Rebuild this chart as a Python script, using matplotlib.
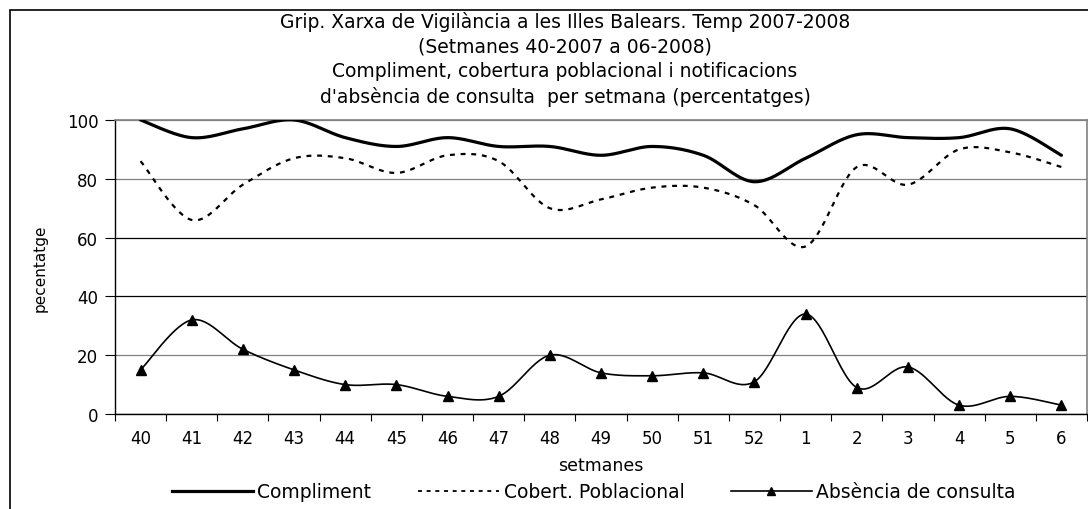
import numpy as np
import matplotlib
matplotlib.use("Agg")
import matplotlib.pyplot as plt
from matplotlib.patches import Rectangle
from matplotlib.lines import Line2D

weeks = ["40", "41", "42", "43", "44", "45", "46", "47", "48", "49",
         "50", "51", "52", "1", "2", "3", "4", "5", "6"]
compliment = [100, 94, 97, 100, 94, 91, 94, 91, 91, 88, 91, 88, 79, 87, 95, 94, 94, 97, 88]
cobertura = [86, 66, 78, 87, 87, 82, 88, 86, 70, 73, 77, 77, 71, 57, 84, 78, 90, 89, 84]
absencia = [15, 32, 22, 15, 10, 10, 6, 6, 20, 14, 13, 14, 11, 34, 9, 16, 3, 6, 3]

title_lines = ["Grip. Xarxa de Vigilància a les Illes Balears. Temp 2007-2008",
               "(Setmanes 40-2007 a 06-2008)",
               "Compliment, cobertura poblacional i notificacions",
               "d'absència de consulta  per setmana (percentatges)"]
legend_labels = ["Compliment", "Cobert. Poblacional", "Absència de consulta"]


def smooth(xs, ys, n=30):
    """Catmull-Rom style Bezier smoothing, like spreadsheet smoothed lines."""
    xs = np.asarray(xs, float)
    ys = np.asarray(ys, float)
    px = np.concatenate([[xs[0]], xs, [xs[-1]]])
    py = np.concatenate([[ys[0]], ys, [ys[-1]]])
    ox, oy = [], []
    t = np.linspace(0, 1, n, endpoint=False)
    for i in range(1, len(px) - 2):
        p0 = np.array([px[i], py[i]])
        p3 = np.array([px[i + 1], py[i + 1]])
        c1 = p0 + (np.array([px[i + 1], py[i + 1]]) - np.array([px[i - 1], py[i - 1]])) / 6
        c2 = p3 - (np.array([px[i + 2], py[i + 2]]) - np.array([px[i], py[i]])) / 6
        b = ((1 - t) ** 3)[:, None] * p0 + (3 * (1 - t) ** 2 * t)[:, None] * c1 \
            + (3 * (1 - t) * t ** 2)[:, None] * c2 + (t ** 3)[:, None] * p3
        ox.extend(b[:, 0])
        oy.extend(b[:, 1])
    ox.append(xs[-1])
    oy.append(ys[-1])
    return np.array(ox), np.array(oy)


plt.rcParams['font.family'] = ['DejaVu Sans']
fig = plt.figure(figsize=(10.88, 5.10), dpi=100)
ax = fig.add_axes([115 / 1088, 1 - 415 / 510, 972 / 1088, 294 / 510])

x = np.arange(len(weeks))

sx, sy = smooth(x, compliment)
ax.plot(sx, sy, color='black', lw=2.3, solid_capstyle='round', zorder=3)
sx, sy = smooth(x, cobertura)
ax.plot(sx, sy, color='black', lw=1.6, ls=(0, (2.2, 2.6)), zorder=3)
sx, sy = smooth(x, absencia)
ax.plot(sx, sy, color='black', lw=1.2, zorder=3)
ax.plot(x, absencia, ls='none', marker='^', color='black', ms=7, zorder=4)

ax.set_xlim(-0.5, len(weeks) - 0.5)
ax.set_ylim(0, 100)
ax.set_yticks([0, 20, 40, 60, 80, 100])
ax.set_xticks(x)
ax.set_xticklabels(weeks)
ax.set_xticks(np.arange(-0.5, len(weeks), 1), minor=True)
ax.tick_params(axis='x', which='major', length=0, pad=11, labelsize=12)
ax.tick_params(axis='x', which='minor', length=5, width=0.8, direction='out')
ax.tick_params(axis='y', length=7, width=0.8, direction='out', pad=5, labelsize=12)

ax.yaxis.grid(True, color='black', lw=0.9)
for gl, c in zip(ax.get_ygridlines(), ['black', '#808080', 'black', 'black', '#808080', '#808080']):
    gl.set_color(c)
ax.set_axisbelow(True)

for s in ['top', 'right']:
    ax.spines[s].set_color('#808080')
    ax.spines[s].set_linewidth(1.2)
ax.spines['left'].set_linewidth(1.0)
ax.spines['bottom'].set_linewidth(1.0)

ax.set_xlabel("setmanes", fontsize=12.5, labelpad=6)
ax.set_ylabel("pecentatge", fontsize=11, labelpad=14)

for i, line in enumerate(title_lines):
    fig.text(565 / 1088, 1 - (22 + 25 * i) / 510, line, ha='center', va='center', fontsize=13.5)

handles = [Line2D([], [], color='black', lw=2.3),
           Line2D([], [], color='black', lw=1.3, ls=(0, (2.2, 2.6))),
           Line2D([], [], color='black', lw=1.2, marker='^', ms=6)]
fig.legend(handles, legend_labels, loc='center', bbox_to_anchor=(594 / 1088, 17 / 510),
           ncol=3, frameon=False, fontsize=13.5, handlelength=4.3, handletextpad=0.25,
           columnspacing=2.5, numpoints=1, borderaxespad=0)

fig.patches.append(Rectangle((10 / 1088, -0.2), 1.2, 1 - 11 / 510 + 0.2, transform=fig.transFigure,
                             fill=False, edgecolor='black', lw=1.2))

fig.savefig("out.png", dpi=100)
